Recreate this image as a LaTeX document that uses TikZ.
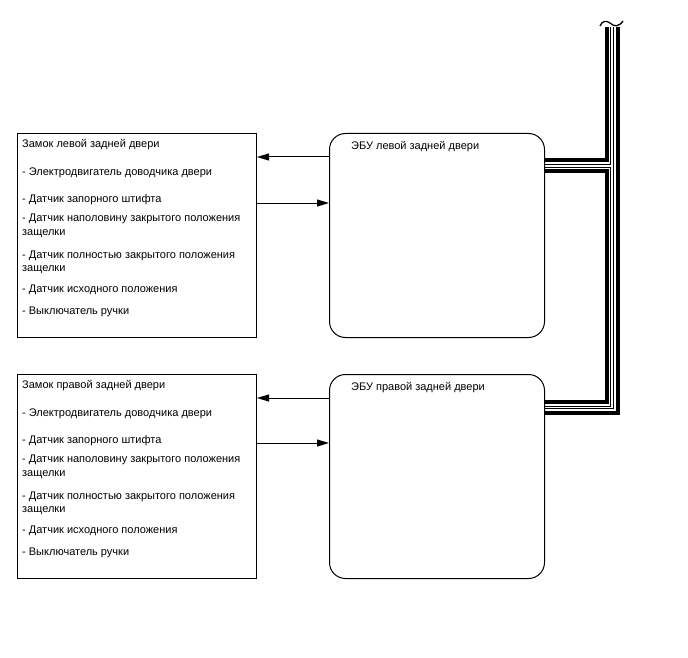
\documentclass[tikz,border=0pt]{standalone}
\usepackage{fontspec}
\setmainfont{Liberation Sans}
\usetikzlibrary{arrows.meta,positioning}

\begin{document}
\begin{tikzpicture}[x=1pt,y=-1pt,
  lockbox/.style={draw,line width=1pt,minimum width=239pt,minimum height=204pt,inner sep=0pt},
  ecubox/.style={draw,line width=1pt,rounded corners=16pt,minimum width=215pt,minimum height=204pt,inner sep=0pt},
  lbl/.style={inner sep=0pt,align=left,font=\fontsize{11}{13.5}\selectfont},
  arr/.style={-{Triangle[length=12pt,width=7pt]},line width=1pt},
  wthick/.style={line width=4pt},
  wthin/.style={line width=1pt}
]
\useasboundingbox (0,0) rectangle (688,658);
% blocks
\node[lockbox,anchor=north west] (lockL) at (17,133) {};
\node[ecubox,right=72pt of lockL] (ecuL) {};
\node[lockbox,below=36pt of lockL] (lockR) {};
\node[ecubox,right=72pt of lockR] (ecuR) {};
% texts
\node[lbl,below right=6pt and 5pt of lockL.north west] (lockLtxt) {Замок левой задней двери\\[14.5pt]
- Электродвигатель доводчика двери\\[14pt]
- Датчик запорного штифта\\[5.5pt]
- Датчик наполовину закрытого положения\\
защелки\\[9.5pt]
- Датчик полностью закрытого положения\\
защелки\\[7pt]
- Датчик исходного положения\\[8.5pt]
- Выключатель ручки};
\node[lbl,below right=6pt and 5pt of lockR.north west] (lockRtxt) {Замок правой задней двери\\[14.5pt]
- Электродвигатель доводчика двери\\[14pt]
- Датчик запорного штифта\\[5.5pt]
- Датчик наполовину закрытого положения\\
защелки\\[9.5pt]
- Датчик полностью закрытого положения\\
защелки\\[7pt]
- Датчик исходного положения\\[8.5pt]
- Выключатель ручки};
\node[lbl,below right=8.5pt and 22pt of ecuL.north west] (ecuLtxt) {ЭБУ левой задней двери};
\node[lbl,below right=8.5pt and 22pt of ecuR.north west] (ecuRtxt) {ЭБУ правой задней двери};
% signals
\draw[arr] ([yshift=-24pt]ecuL.north west) -- ([yshift=-24pt]lockL.north east);
\draw[arr] ([yshift=-70pt]lockL.north east) -- ([yshift=-70pt]ecuL.north west);
\draw[arr] ([yshift=-24pt]ecuR.north west) -- ([yshift=-24pt]lockR.north east);
\draw[arr] ([yshift=-69pt]lockR.north east) -- ([yshift=-69pt]ecuR.north west);
% bus
\coordinate (l1) at ([yshift=-27pt]ecuL.north east);
\coordinate (l2) at ([yshift=-31.5pt]ecuL.north east);
\coordinate (l3) at ([yshift=-34pt]ecuL.north east);
\coordinate (l4) at ([yshift=-38pt]ecuL.north east);
\coordinate (r1) at ([yshift=-28pt]ecuR.north east);
\coordinate (r2) at ([yshift=-32pt]ecuR.north east);
\coordinate (r3) at ([yshift=-34.5pt]ecuR.north east);
\coordinate (r4) at ([yshift=-39pt]ecuR.north east);
\coordinate (t1) at (606.5,27);
\coordinate (t2) at (610.5,27);
\coordinate (t3) at (613,27);
\coordinate (t4) at (617.5,27);
\draw[wthick] (l1) -| (t1);
\draw[wthin] (l2) -| (t2);
\draw[wthin] (l3) -| (t2 |- r2) -- (r2);
\draw[wthick] (l4) -| (t1 |- r1) -- (r1);
\draw[wthin] (t3) |- (r3);
\draw[wthick] (t4) |- (r4);
% break mark
\draw[line width=1.3pt] (600,26) .. controls (602,21) and (606,20) .. (610,23)
  .. controls (614,27) and (619,27) .. (623,21);
\end{tikzpicture}
\end{document}
